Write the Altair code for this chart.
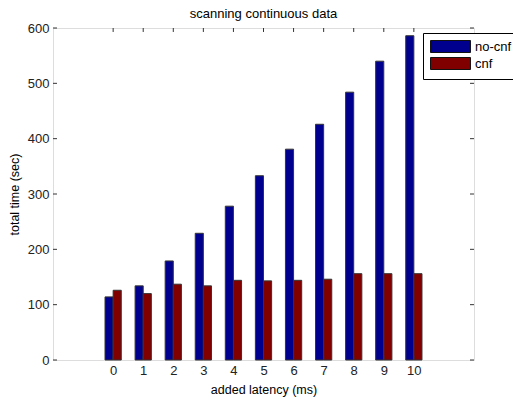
import altair as alt
import pandas as pd

latency = [0, 1, 2, 3, 4, 5, 6, 7, 8, 9, 10]
no_cnf = [114, 134, 179, 229, 278, 333, 381, 426, 484, 540, 586]
cnf = [126, 120, 137, 134, 144, 143, 144, 146, 156, 156, 156]
series = ["no-cnf", "cnf"]
colors = ["#00008F", "#800000"]
y_ticks = [0, 100, 200, 300, 400, 500, 600]

rows = []
for i, l in enumerate(latency):
    rows.append({"latency": l, "series": "no-cnf", "value": no_cnf[i], "shift": -1})
    rows.append({"latency": l, "series": "cnf", "value": cnf[i], "shift": 1})
df = pd.DataFrame(rows)

xscale = alt.Scale(domain=[-2, 12], nice=False, zero=False)
yscale = alt.Scale(domain=[0, 600], nice=False)
FONT = "Liberation Sans"
TX = 0.133   # tick length in x units (~4px)
TY = 7.2     # tick length in y units (~4px)

axis_font = dict(labelFont=FONT, labelFontSize=13, labelColor="#222222",
                 titleFont=FONT, titleFontSize=12.5, titleFontWeight="normal",
                 titleColor="#000000", tickSize=0, grid=False, domain=False)

bars = alt.Chart(df).transform_calculate(
    x0="datum.latency + datum.shift * 0.135 - 0.135",
    x1="datum.latency + datum.shift * 0.135 + 0.135",
).mark_rect(stroke="#333333", strokeWidth=1).encode(
    x=alt.X("x0:Q", scale=xscale,
            axis=alt.Axis(values=latency, title="added latency (ms)",
                          labelPadding=4, format="d", titlePadding=6, **axis_font)),
    x2="x1:Q",
    y=alt.Y("value:Q", scale=yscale,
            axis=alt.Axis(values=y_ticks, title="total time (sec)",
                          labelPadding=4, titlePadding=6, **axis_font)),
    y2=alt.datum(0),
    color=alt.Color("series:N", scale=alt.Scale(domain=series, range=colors),
                    legend=alt.Legend(
                        title=None, orient="none", legendX=370, legendY=5,
                        symbolType="M-3.33,-1L3.33,-1L3.33,1L-3.33,1Z",
                        symbolSize=144, symbolStrokeColor="#111111",
                        symbolStrokeWidth=1, symbolOpacity=1, symbolOffset=14,
                        labelFont=FONT, labelFontSize=13, labelColor="#000000",
                        strokeColor="#000000", fillColor="#ffffff",
                        padding=7, labelOffset=18, rowPadding=0)),
)

tdf_x = pd.DataFrame({"t": latency})
tdf_y = pd.DataFrame({"t": y_ticks})
rule_style = dict(color="#333333", strokeWidth=1)

bottom = alt.Chart(tdf_x).transform_calculate(a="0", b=str(TY)).mark_rule(**rule_style).encode(
    x=alt.X("t:Q", scale=xscale), y=alt.Y("a:Q", scale=yscale), y2="b:Q")
top = alt.Chart(tdf_x).transform_calculate(a=str(600 - TY), b="600").mark_rule(**rule_style).encode(
    x=alt.X("t:Q", scale=xscale), y=alt.Y("a:Q", scale=yscale), y2="b:Q")
left = alt.Chart(tdf_y).transform_calculate(a="-2", b=str(-2 + TX)).mark_rule(**rule_style).encode(
    y=alt.Y("t:Q", scale=yscale), x=alt.X("a:Q", scale=xscale), x2="b:Q")
right = alt.Chart(tdf_y).transform_calculate(a=str(12 - TX), b="12").mark_rule(**rule_style).encode(
    y=alt.Y("t:Q", scale=yscale), x=alt.X("a:Q", scale=xscale), x2="b:Q")

chart = alt.layer(bars, bottom, top, left, right).properties(
    width=421, height=332,
    title=alt.TitleParams("scanning continuous data", font=FONT, fontSize=13,
                          fontWeight="normal", color="#000000", offset=1),
    autosize=alt.AutoSizeParams(type="none"),
    padding={"left": 53, "top": 28, "right": 39, "bottom": 43},
).configure_view(stroke="#333333", strokeWidth=1).configure(background="#ffffff")

chart.save("out.html", embed_options={"renderer": "svg", "actions": False})
